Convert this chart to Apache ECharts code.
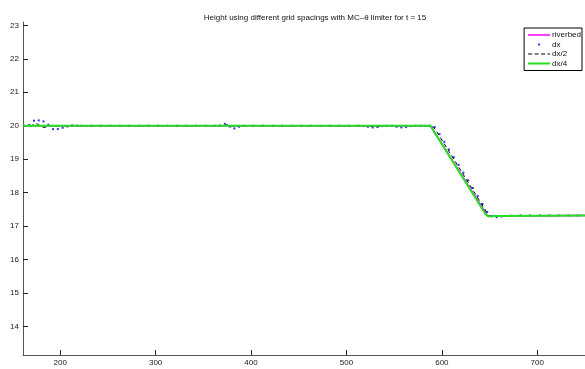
<!DOCTYPE html>
<html>
<head>
<meta charset="utf-8">
<script src="https://cdn.jsdelivr.net/npm/echarts@6/dist/echarts.min.js"></script>
<style>
  html, body { margin: 0; padding: 0; background: #fff; }
  #main { width: 585px; height: 369px; }
</style>
</head>
<body>
<div id="main"></div>
<script>
// tick labels
var xTicks = [200, 300, 400, 500, 600, 700];
var yTicks = [14, 15, 16, 17, 18, 19, 20, 21, 22, 23];

// riverbed (hidden under the dx/4 line)
var riverbed = [[161, 20], [588, 20], [648, 17.3], [750, 17.32]];

// dx : coarse grid, plotted as dots
var xDx = [162.5, 167.5, 172.5, 177.5, 182.5, 187.5, 192.5, 197.5, 202.5, 207.5,
  212.5, 217.5, 222.5, 232.5, 242.5, 252.5, 262.5, 272.5, 282.5, 292.5,
  302.5, 312.5, 322.5, 332.5, 342.5, 352.5, 362.5, 367.5, 372.5, 377.5,
  382.5, 387.5, 392.5, 402.5, 412.5, 422.5, 432.5, 442.5, 452.5, 462.5,
  472.5, 482.5, 492.5, 502.5, 512.5, 517.5, 522.5, 527.5, 532.5, 537.5,
  542.5, 547.5, 552.5, 557.5, 562.5, 567.5, 572.5, 577.5, 582.5, 587.5,
  592.5, 597.5, 602.5, 607.5, 612.5, 617.5, 622.5, 627.5, 632.5, 637.5,
  642.5, 647.5, 652.5, 657.5, 662.5, 672.5, 682.5, 692.5, 702.5, 712.5,
  722.5, 732.5, 742.5];
var hDx = [20.0, 20.02, 20.15, 20.16, 20.13, 20.03, 19.9, 19.9, 19.94, 19.98,
  20.01, 20.0, 20.0, 20.0, 20.0, 20.0, 20.0, 20.0, 20.0, 20.0,
  20.0, 20.0, 20.0, 20.0, 20.0, 20.0, 20.0, 20.01, 20.06, 19.98,
  19.92, 19.97, 20.0, 20.0, 20.0, 20.0, 20.0, 20.0, 20.0, 20.0,
  20.0, 20.0, 20.0, 20.0, 20.0, 19.99, 19.97, 19.95, 19.96, 19.99,
  20.0, 20.0, 19.97, 19.95, 19.96, 19.99, 20.0, 20.0, 20.0, 20.0,
  19.96, 19.75, 19.52, 19.29, 19.06, 18.83, 18.6, 18.37, 18.14, 17.9,
  17.66, 17.42, 17.3, 17.27, 17.29, 17.31, 17.32, 17.32, 17.32, 17.32,
  17.32, 17.32, 17.32];

// dx/2 : dashed black line
var dx2 = [[161, 20], [170, 20], [173, 20.06], [176, 20.05], [179, 20.0], [182, 19.95],
  [185, 19.96], [190, 20.0], [372, 20.0], [375, 20.04], [378, 19.96], [381, 20.0],
  [520, 20.0], [530, 19.97], [540, 20.0], [589, 20.0], [593, 19.9], [649, 17.32],
  [653, 17.27], [657, 17.31], [750, 17.32]];

// dx/4 : green solid line
var dx4 = [[161, 20], [588, 20], [590, 19.95], [646, 17.35], [649, 17.29],
  [655, 17.3], [750, 17.32]];

var chart = echarts.init(document.getElementById('main'));
var font = 'Liberation Sans';

var dxData = xDx.map(function (x, i) { return [x, hDx[i]]; });

// legend icons: tiny corner specks keep the 22x8 box so the shapes are not stretched
var box = 'M0,0L0.01,0L0,0.01Z M22,8L21.99,8L22,7.99Z ';
var solidIcon = 'path://' + box + 'M0,3.3L22,3.3L22,4.7L0,4.7Z';
var thickIcon = 'path://' + box + 'M0,3L22,3L22,5L0,5Z';
var dashIcon = 'path://' + box + 'M0,3.5L4,3.5L4,4.5L0,4.5Z M6.5,3.5L10.5,3.5L10.5,4.5L6.5,4.5Z ' +
  'M13,3.5L17,3.5L17,4.5L13,4.5Z M19.5,3.5L22,3.5L22,4.5L19.5,4.5Z';
var dotIcon = 'path://' + box + 'M10,3L12,3L12,5L10,5Z';

var option = {
  animation: false,
  backgroundColor: '#fff',
  title: {
    text: 'Height using different grid spacings with MC\u2013\u03b8 limiter for t = 15',
    left: 310,
    textAlign: 'center',
    top: 9,
    textStyle: { fontFamily: font, fontSize: 8, fontWeight: 'normal', color: '#111' }
  },
  legend: {
    orient: 'vertical',
    right: 3,
    top: 28,
    padding: [3, 1, 3, 4],
    itemWidth: 22,
    itemHeight: 8,
    itemGap: 1.5,
    borderColor: '#000',
    borderWidth: 1,
    backgroundColor: '#fff',
    textStyle: { fontFamily: font, fontSize: 8, color: '#111', padding: [0, 0, 0, -3] },
    data: [
      { name: 'riverbed', icon: solidIcon, itemStyle: { color: '#ff00ff' } },
      { name: 'dx', icon: dotIcon, itemStyle: { color: '#0000ff' } },
      { name: 'dx/2', icon: dashIcon, itemStyle: { color: '#000' } },
      { name: 'dx/4', icon: thickIcon, itemStyle: { color: '#22e022' } }
    ]
  },
  grid: { left: 23, right: 0, top: 22, bottom: 14, containLabel: false },
  xAxis: {
    type: 'value',
    min: 161,
    max: 750,
    splitLine: { show: false },
    axisLine: { lineStyle: { color: '#555', width: 1 } },
    axisTick: { inside: true, length: 5, lineStyle: { color: '#222' }, customValues: xTicks },
    axisLabel: { fontFamily: font, fontSize: 8, color: '#222', margin: 4, customValues: xTicks }
  },
  yAxis: {
    type: 'value',
    min: 13.15,
    max: 23.1,
    splitLine: { show: false },
    axisLine: { show: true, lineStyle: { color: '#555', width: 1 } },
    axisTick: { show: true, inside: true, length: 5, lineStyle: { color: '#222' }, customValues: yTicks },
    axisLabel: { fontFamily: font, fontSize: 8, color: '#222', margin: 4, customValues: yTicks }
  },
  series: [
    {
      name: 'riverbed',
      type: 'line',
      data: riverbed,
      symbol: 'none',
      itemStyle: { color: '#ff00ff' },
      lineStyle: { color: '#ff00ff', width: 1.5 }
    },
    {
      name: 'dx',
      type: 'scatter',
      data: dxData,
      symbol: 'rect',
      symbolSize: 2,
      itemStyle: { color: '#0000ff' }
    },
    {
      name: 'dx/2',
      type: 'line',
      data: dx2,
      symbol: 'none',
      itemStyle: { color: '#000' },
      lineStyle: { color: '#000', width: 1, type: [4, 3] }
    },
    {
      name: 'dx/4',
      type: 'line',
      data: dx4,
      symbol: 'none',
      itemStyle: { color: '#22e022' },
      lineStyle: { color: '#22e022', width: 2 }
    }
  ]
};

chart.setOption(option);
</script>
</body>
</html>
